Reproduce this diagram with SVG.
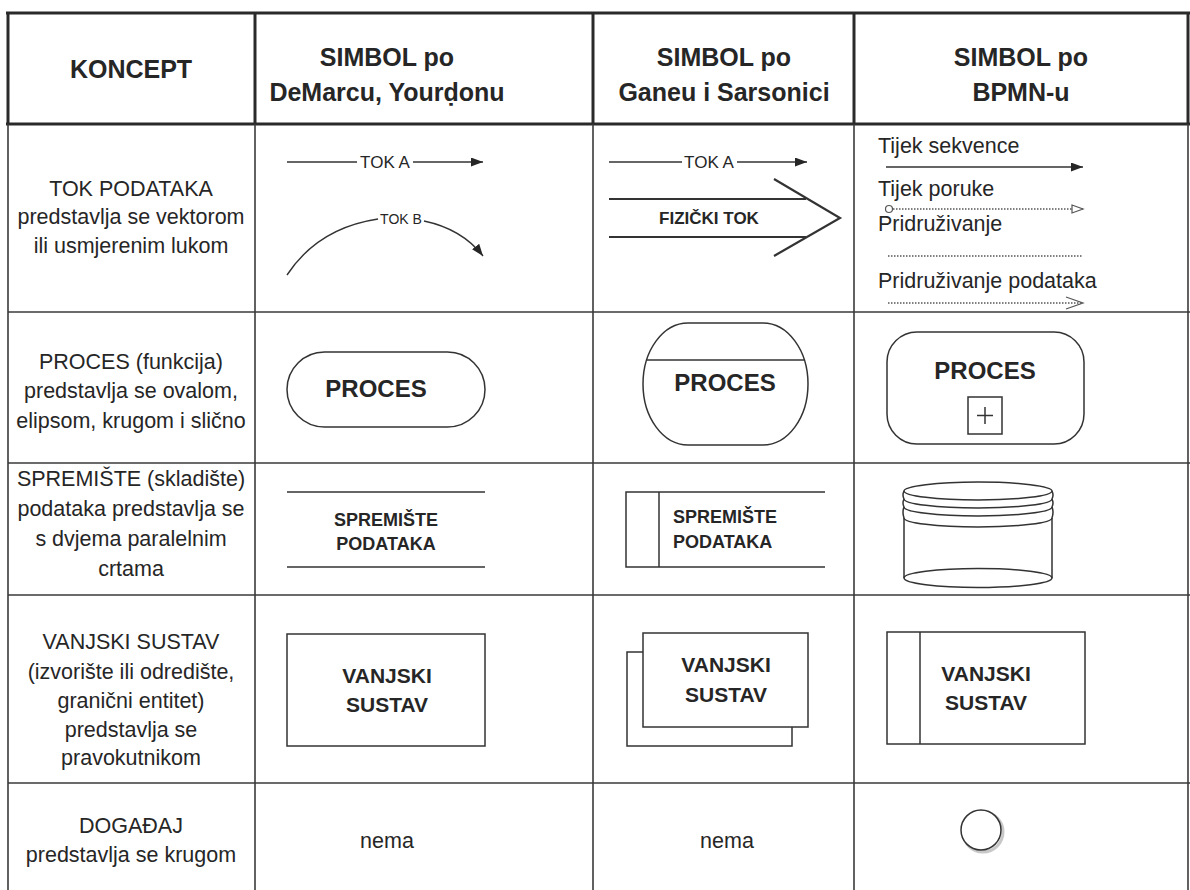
<svg xmlns="http://www.w3.org/2000/svg" width="1190" height="890" viewBox="0 0 1190 890">
<style>
  text { font-family: "Liberation Sans", Arial, sans-serif; fill: #262626; }
  .h { font-size: 25px; font-weight: bold; text-anchor: middle; }
  .c { font-size: 21.5px; text-anchor: middle; }
  .l { font-size: 21.5px; text-anchor: start; }
  .b { font-weight: bold; text-anchor: middle; }
  .grid { stroke: #3a3a3a; stroke-width: 1.6; fill: none; }
  .thick { stroke: #2a2a2a; stroke-width: 3; fill: none; }
  .sh { stroke: #333; stroke-width: 1.5; fill: none; }
  .ln { stroke: #333; stroke-width: 1.4; fill: none; }
  .dot { stroke: #555; stroke-width: 1.3; stroke-dasharray: 1.5 1.5; fill: none; }
</style>
<defs>
  <marker id="fill" markerUnits="userSpaceOnUse" markerWidth="14" markerHeight="10" refX="12" refY="4.5" orient="auto">
    <path d="M0,0 L12,4.5 L0,9 z" fill="#262626"/>
  </marker>
  <marker id="open" markerUnits="userSpaceOnUse" markerWidth="14" markerHeight="12" refX="12" refY="5" orient="auto">
    <path d="M1,1 L12,5 L1,9 z" fill="#fff" stroke="#555" stroke-width="1.2"/>
  </marker>
</defs>
<rect width="1190" height="890" fill="#fff"/>

<g id="table">
  <line class="thick" x1="6" y1="13" x2="1190" y2="13"/>
  <line class="thick" x1="6" y1="124" x2="1190" y2="124"/>
  <line class="thick" x1="8" y1="12" x2="8" y2="124"/>
  <line class="thick" x1="255" y1="12" x2="255" y2="124"/>
  <line class="thick" x1="593" y1="12" x2="593" y2="124"/>
  <line class="thick" x1="854" y1="12" x2="854" y2="124"/>
  <line class="thick" x1="1188" y1="12" x2="1188" y2="124"/>
  <line class="grid" x1="8" y1="124" x2="8" y2="890"/>
  <line class="grid" x1="255" y1="124" x2="255" y2="890"/>
  <line class="grid" x1="593" y1="124" x2="593" y2="890"/>
  <line class="grid" x1="854" y1="124" x2="854" y2="890"/>
  <line class="grid" x1="1188" y1="124" x2="1188" y2="890"/>
  <line class="grid" x1="8" y1="312" x2="1190" y2="312"/>
  <line class="grid" x1="8" y1="463" x2="1190" y2="463"/>
  <line class="grid" x1="8" y1="595" x2="1190" y2="595"/>
  <line class="grid" x1="8" y1="783" x2="1190" y2="783"/>
</g>

<g id="header">
  <text class="h" x="131" y="78">KONCEPT</text>
  <text class="h" x="387" y="66">SIMBOL po</text>
  <text class="h" x="387" y="101">DeMarcu, Yourḍonu</text>
  <text class="h" x="724" y="66">SIMBOL po</text>
  <text class="h" x="724" y="101">Ganeu i Sarsonici</text>
  <text class="h" x="1021" y="66">SIMBOL po</text>
  <text class="h" x="1021" y="101">BPMN-u</text>
</g>

<g id="concepts">
  <text class="c" x="131" y="196">TOK PODATAKA</text>
  <text class="c" x="131" y="224">predstavlja se vektorom</text>
  <text class="c" x="131" y="253">ili usmjerenim lukom</text>

  <text class="c" x="131" y="369">PROCES (funkcija)</text>
  <text class="c" x="131" y="398">predstavlja se ovalom,</text>
  <text class="c" x="131" y="428">elipsom, krugom i slično</text>

  <text class="c" x="131" y="486">SPREMIŠTE (skladište)</text>
  <text class="c" x="131" y="516">podataka predstavlja se</text>
  <text class="c" x="131" y="546">s dvjema paralelnim</text>
  <text class="c" x="131" y="576">crtama</text>

  <text class="c" x="131" y="649">VANJSKI SUSTAV</text>
  <text class="c" x="131" y="679">(izvorište ili odredište,</text>
  <text class="c" x="131" y="708">granični entitet)</text>
  <text class="c" x="131" y="737">predstavlja se</text>
  <text class="c" x="131" y="765">pravokutnikom</text>

  <text class="c" x="131" y="833">DOGAĐAJ</text>
  <text class="c" x="131" y="862">predstavlja se krugom</text>
</g>

<g id="connectors">
  <line class="ln" x1="287" y1="162" x2="357" y2="162"/>
  <line class="ln" x1="413" y1="162" x2="483" y2="162" marker-end="url(#fill)"/>
  <path class="ln" d="M287,275 Q318,228 378,219"/>
  <path class="ln" d="M424,221 Q462,229 483,256" marker-end="url(#fill)"/>
  <line class="ln" x1="609" y1="162" x2="682" y2="162"/>
  <line class="ln" x1="737" y1="162" x2="807" y2="162" marker-end="url(#fill)"/>
  <line class="sh" style="stroke-width:2.2" x1="609" y1="199" x2="806" y2="199"/>
  <line class="sh" style="stroke-width:2.2" x1="609" y1="237" x2="806" y2="237"/>
  <polyline class="sh" style="stroke-width:2.2" points="774,179 840,218 774,256"/>
  <line class="ln" x1="886" y1="167" x2="1083" y2="167" marker-end="url(#fill)"/>
  <circle cx="889" cy="209" r="3.5" fill="#fff" stroke="#555" stroke-width="1.2"/>
  <line class="dot" x1="893" y1="209" x2="1083" y2="209" marker-end="url(#open)"/>
  <line class="dot" x1="888" y1="256" x2="1083" y2="256"/>
  <line class="dot" x1="888" y1="303" x2="1083" y2="303"/>
  <polyline points="1066,297 1083,303 1066,309" fill="none" stroke="#555" stroke-width="1.2"/>
</g>

<g id="flow-labels">
  <text class="c" x="385" y="168" style="font-size:17px">TOK A</text>
  <text class="c" x="401" y="224" style="font-size:14px">TOK B</text>
  <text class="c" x="709" y="168" style="font-size:17px">TOK A</text>
  <text class="b" x="709" y="224" style="font-size:17px">FIZIČKI TOK</text>
  <text class="l" x="878" y="153">Tijek sekvence</text>
  <text class="l" x="878" y="196">Tijek poruke</text>
  <text class="l" x="878" y="231">Pridruživanje</text>
  <text class="l" x="878" y="288">Pridruživanje podataka</text>
</g>

<g id="proces-demarco">
  <rect class="sh" x="287" y="352" width="198" height="75" rx="37.5" ry="37.5"/>
  <text class="b" x="376" y="397" style="font-size:24px">PROCES</text>
</g>
<g id="proces-gane">
  <rect class="sh" x="643" y="323" width="165" height="122" rx="45" ry="61"/>
  <line class="sh" x1="646" y1="360" x2="805" y2="360"/>
  <text class="b" x="725" y="391" style="font-size:24px">PROCES</text>
</g>
<g id="proces-bpmn">
  <rect class="sh" x="887" y="332" width="197" height="112" rx="30" ry="30"/>
  <text class="b" x="985" y="379" style="font-size:24px">PROCES</text>
  <rect class="sh" x="968" y="397" width="34" height="37"/>
  <line class="sh" x1="985" y1="407" x2="985" y2="424"/>
  <line class="sh" x1="977" y1="415.5" x2="993" y2="415.5"/>
</g>

<g id="spremiste-demarco">
  <line class="sh" x1="287" y1="492" x2="485" y2="492"/>
  <line class="sh" x1="287" y1="567" x2="485" y2="567"/>
  <text class="b" x="386" y="526" style="font-size:18px">SPREMIŠTE</text>
  <text class="b" x="386" y="550" style="font-size:18px">PODATAKA</text>
</g>
<g id="spremiste-gane">
  <polyline class="sh" points="825,492 626,492 626,567 825,567"/>
  <line class="sh" x1="659" y1="492" x2="659" y2="567"/>
  <text class="b" x="673" y="523" style="font-size:18px;text-anchor:start">SPREMIŠTE</text>
  <text class="b" x="673" y="548" style="font-size:18px;text-anchor:start">PODATAKA</text>
</g>
<g id="spremiste-bpmn">
  <ellipse class="sh" cx="978" cy="491" rx="74" ry="9"/>
  <path class="sh" d="M904,499 A74,9 0 0 0 1052,499"/>
  <path class="sh" d="M904,507 A74,9 0 0 0 1052,507"/>
  <path class="sh" d="M904,518 A74,9 0 0 0 1052,518"/>
  <path class="sh" d="M904,491 Q902,495 904,499 Q902,503 904,507 Q902,512 904,518 L904,578"/>
  <path class="sh" d="M1052,491 Q1054,495 1052,499 Q1054,503 1052,507 Q1054,512 1052,518 L1052,578"/>
  <ellipse class="sh" cx="978" cy="578" rx="74" ry="9.5"/>
</g>

<g id="vanjski-demarco">
  <rect class="sh" x="287" y="634" width="198" height="112"/>
  <text class="b" x="387" y="683" style="font-size:21px">VANJSKI</text>
  <text class="b" x="387" y="712" style="font-size:21px">SUSTAV</text>
</g>
<g id="vanjski-gane">
  <polyline class="sh" points="643,652 627,652 627,746 792,746 792,727"/>
  <rect class="sh" x="643" y="633" width="165" height="94" fill="#fff"/>
  <text class="b" x="726" y="672" style="font-size:21px">VANJSKI</text>
  <text class="b" x="726" y="702" style="font-size:21px">SUSTAV</text>
</g>
<g id="vanjski-bpmn">
  <rect class="sh" x="887" y="632" width="198" height="112"/>
  <line class="sh" x1="920" y1="632" x2="920" y2="744"/>
  <text class="b" x="986" y="681" style="font-size:21px">VANJSKI</text>
  <text class="b" x="986" y="710" style="font-size:21px">SUSTAV</text>
</g>

<g id="dogadaj">
  <text class="c" x="387" y="848">nema</text>
  <text class="c" x="727" y="848">nema</text>
  <circle cx="983" cy="832" r="20" fill="none" stroke="#c8c8c8" stroke-width="3"/>
  <circle cx="981" cy="830" r="20" fill="#fff" stroke="#333" stroke-width="1.5"/>
</g>
</svg>
